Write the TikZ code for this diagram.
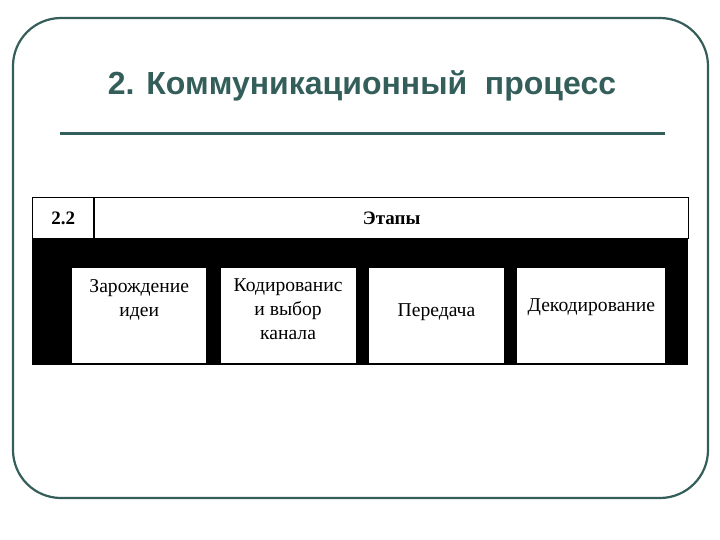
\documentclass[tikz,border=0pt]{standalone}
\usepackage{fontspec}
\setmainfont{Liberation Serif}
\newfontfamily\titlefont{Liberation Sans}
\usetikzlibrary{positioning}
\definecolor{slidegreen}{RGB}{52,94,90}

\begin{document}
\begin{tikzpicture}[x=1pt, y=-1pt, node distance=14pt,
  stage/.style={fill=white, minimum width=134pt, minimum height=95pt, inner sep=0pt},
  stagetext/.style={font=\fontsize{19.6}{24}\selectfont, align=center, inner sep=0pt},
  headcell/.style={draw=black, fill=white, line width=0.8pt, minimum height=41pt, inner sep=0pt, anchor=north west, font=\bfseries\fontsize{19}{22}\selectfont}]
  \useasboundingbox (0,0) rectangle (720,540);
  \draw[slidegreen, line width=2.2pt, rounded corners=48pt] (13,18) rectangle (708,498);
  \node[text=slidegreen, font=\titlefont\bfseries\fontsize{32}{38}\selectfont, anchor=base, inner sep=0pt] (title) at (362,95) {2. Коммуникационный\ \ процесс};
  \coordinate (ruleL) at (60,134);
  \coordinate (ruleR) at (665,134);
  \draw[slidegreen, line width=3pt] (ruleL) -- (ruleR);

  % table
  \node[fill=black, minimum width=656pt, minimum height=168pt, inner sep=0pt, anchor=north west] (table) at (32,197) {};
  \node[headcell, minimum width=61pt] (num) at (32.4,197.4) {2.2};
  \node[headcell, minimum width=594.2pt] (head) at (num.north east) {Этапы};

  \node[stage, anchor=north west] (idea) at (72,268) {};
  \node[stage, minimum width=135pt] (coding) [right=14pt of idea] {};
  \node[stage, minimum width=135pt] (send) [right=13pt of coding] {};
  \node[stage, minimum width=148pt] (decoding) [right=13pt of send] {};

  \node[stagetext] (ideatext) [below=11pt of idea.north] {Зарождение\\идеи};
  \node[stagetext] (codingtext) [below=10pt of coding.north] {Кодированис\\и выбор\\канала};
  \node[stagetext] (sendtext) [below=35pt of send.north] {Передача};
  \node[stagetext] (decodingtext) [below=30pt of decoding.north] {Декодирование};
\end{tikzpicture}
\end{document}
